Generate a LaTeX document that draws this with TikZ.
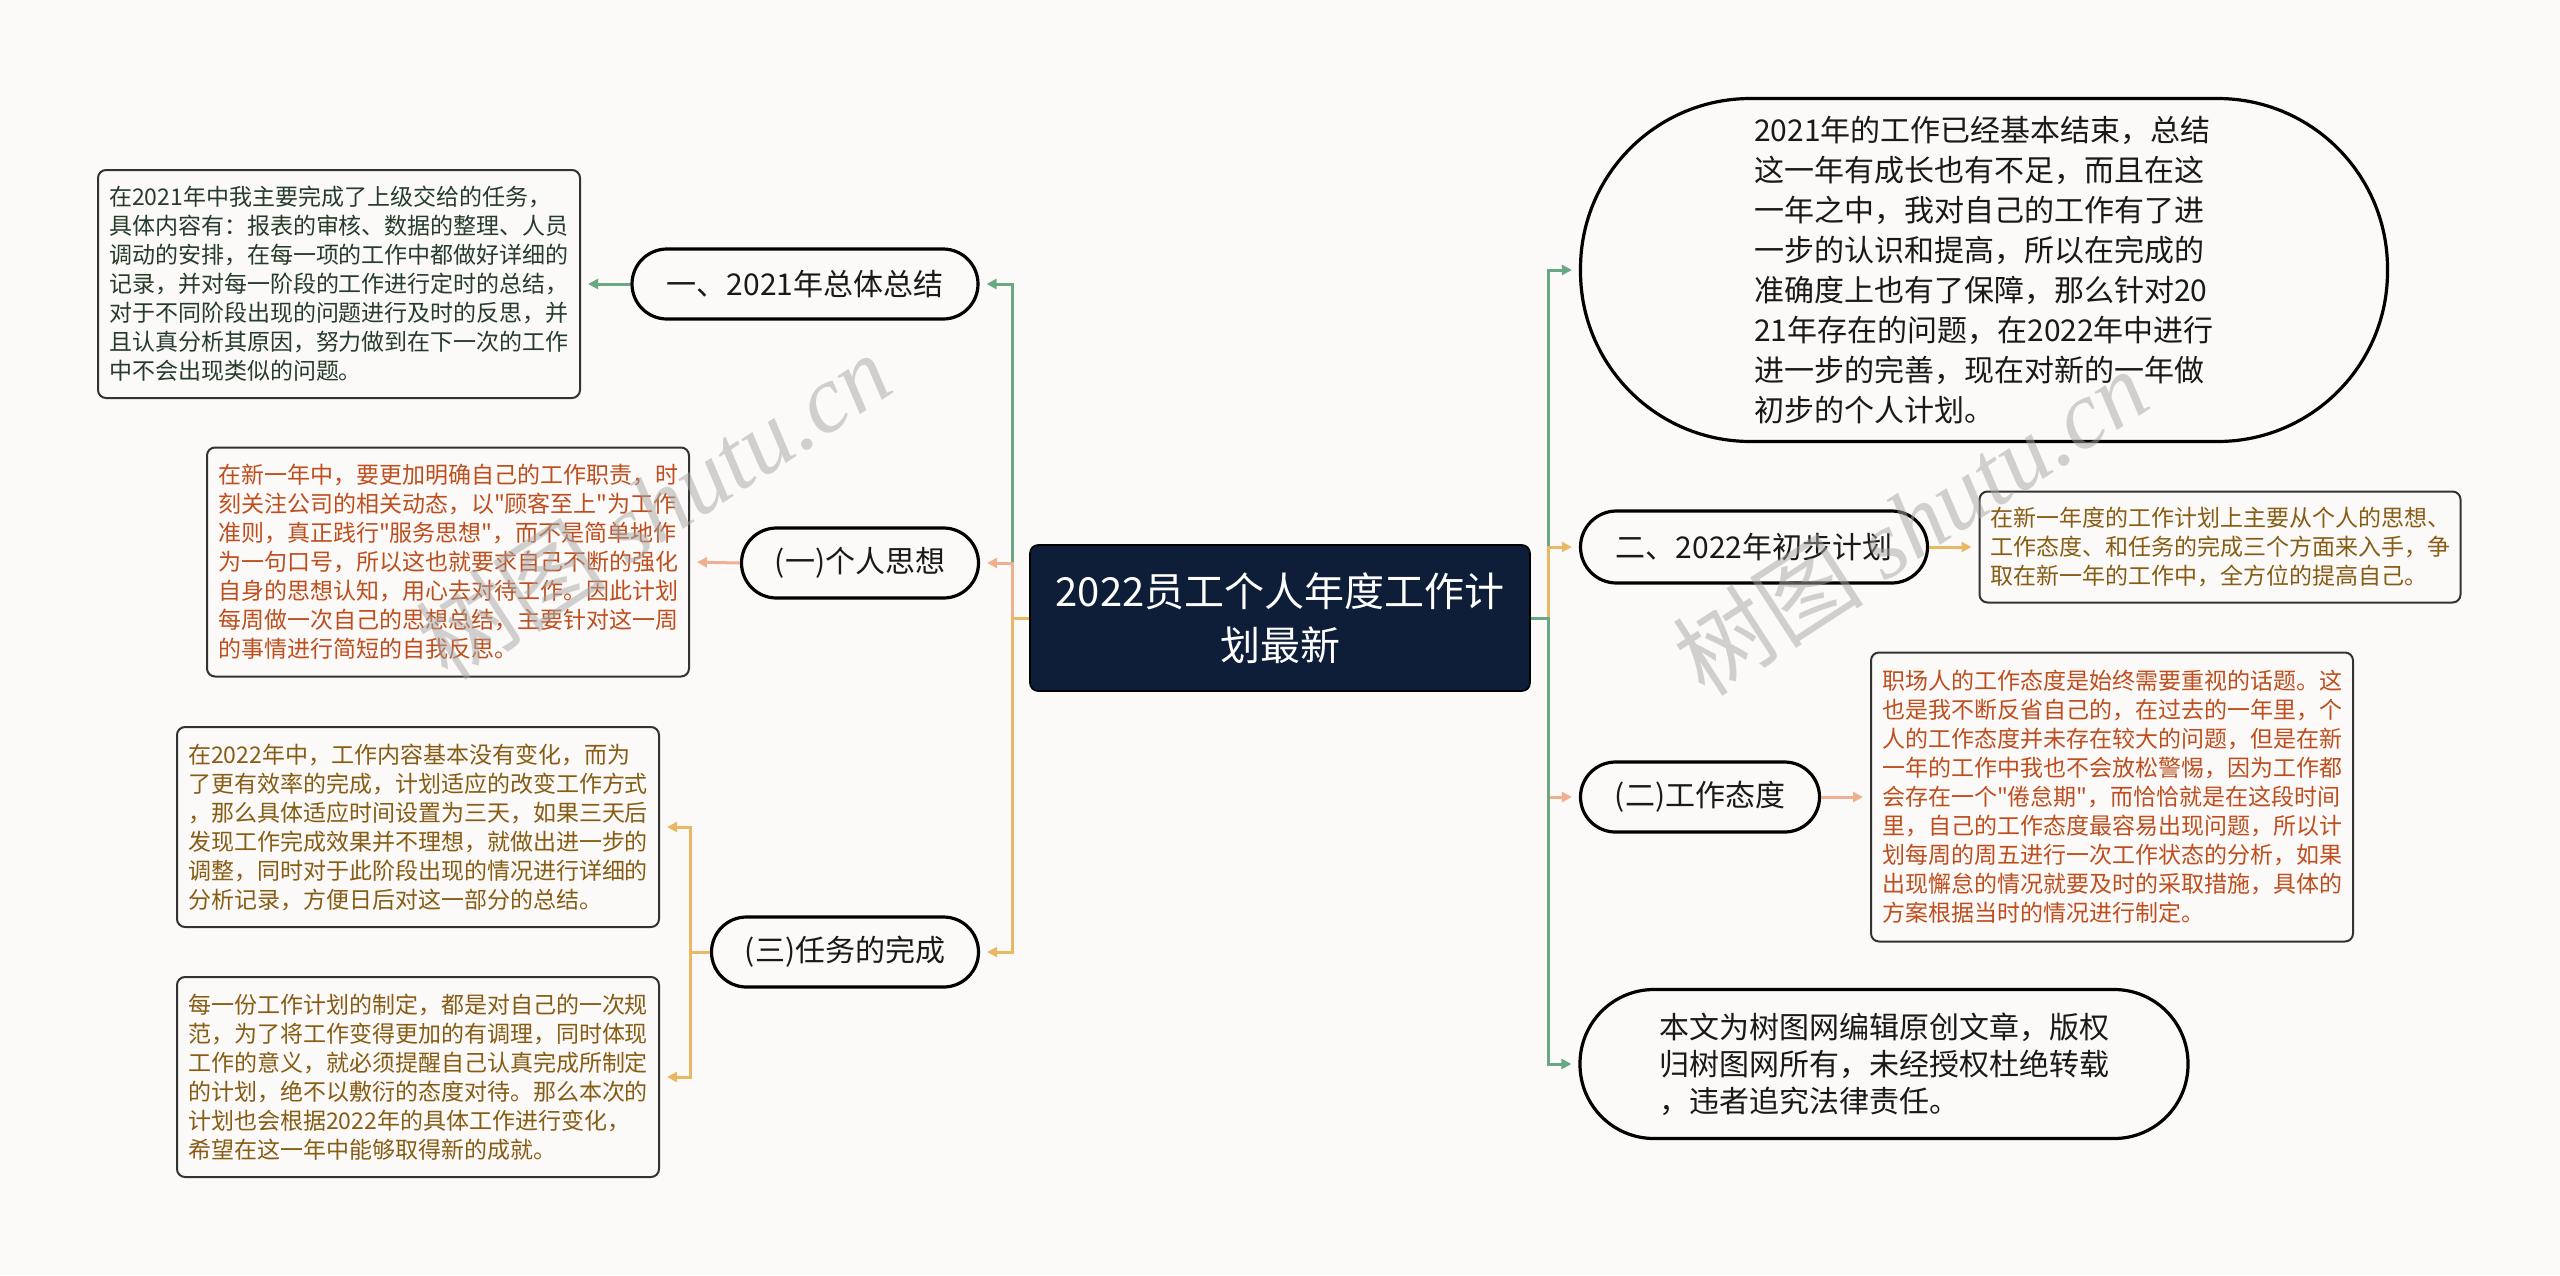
\documentclass[tikz,border=0pt]{standalone}
\usepackage{fontspec}
\setmainfont{Noto Sans CJK SC}[Ligatures=TeXOff]
\newfontfamily\markfont{Liberation Serif}
\usetikzlibrary{arrows.meta}

\definecolor{bgcol}{RGB}{252,250,248}
\definecolor{navy}{RGB}{14,30,56}
\definecolor{lkgreen}{RGB}{106,168,132}
\definecolor{lkpink}{RGB}{240,176,144}
\definecolor{lkgold}{RGB}{232,184,100}
\definecolor{txgreen}{RGB}{38,60,45}
\definecolor{txrust}{RGB}{190,78,30}
\definecolor{txgold}{RGB}{135,92,20}

\begin{document}
\begin{tikzpicture}[x=0.5pt, y=-0.5pt,
    central/.style={draw=black, line width=0.8pt, fill=navy, text=white, rounded corners=4pt,
      minimum width=250pt, minimum height=73pt, align=center, font=\fontsize{20}{27}\selectfont},
    branch/.style={draw=black, line width=1.6pt, fill=bgcol, text=black!90, rounded corners=17.5pt,
      minimum height=35pt, font=\fontsize{15}{18}\selectfont},
    bigpill/.style={draw=black, line width=1.6pt, fill=bgcol, text=black!90, align=left},
    detail/.style={draw=black!80, line width=1pt, fill=bgcol, rounded corners=4pt, minimum width=241pt,
      align=left, inner sep=0pt, font=\fontsize{11.5}{14.5}\selectfont},
    link/.style={line width=1.5pt, -{Triangle[length=5pt,width=5pt]}, shorten >=3.5pt},
    wmark/.style={text=black!35, opacity=0.5, rotate=33, font=\fontsize{48}{48}\selectfont}
  ]

  % Background
  \fill[bgcol] (0,0) rectangle (2560,1275);
  \useasboundingbox (0,0) rectangle (2560,1275);

  % Centre
  \node[central] (ctr) at (1280,618) {2022员工个人年度工作计\\划最新};
  \coordinate (jl) at (1012,618);
  \coordinate (jr) at (1548,618);

  % Left branches
  \node[branch, minimum width=173pt] (sum) at (805,284) {一、2021年总体总结};
  \node[branch, minimum width=118.5pt] (idea) at (860,563) {(一)个人思想};
  \node[branch, minimum width=133.5pt] (task) at (845,952) {(三)任务的完成};

  \node[detail, text=txgreen, minimum height=114pt] (sumtxt) at (339,284)
    {在2021年中我主要完成了上级交给的任务，\\具体内容有：报表的审核、数据的整理、人员\\调动的安排，在每一项的工作中都做好详细的\\记录，并对每一阶段的工作进行定时的总结，\\对于不同阶段出现的问题进行及时的反思，并\\且认真分析其原因，努力做到在下一次的工作\\中不会出现类似的问题。};
  \node[detail, text=txrust, minimum height=114.5pt] (ideatxt) at (448,562)
    {在新一年中，要更加明确自己的工作职责，时\\刻关注公司的相关动态，以"顾客至上"为工作\\准则，真正践行"服务思想"，而不是简单地作\\为一句口号，所以这也就要求自己不断的强化\\自身的思想认知，用心去对待工作。因此计划\\每周做一次自己的思想总结，主要针对这一周\\的事情进行简短的自我反思。};
  \node[detail, text=txgold, minimum height=100pt] (taskA) at (418,827)
    {在2022年中，工作内容基本没有变化，而为\\了更有效率的完成，计划适应的改变工作方式\\，那么具体适应时间设置为三天，如果三天后\\发现工作完成效果并不理想，就做出进一步的\\调整，同时对于此阶段出现的情况进行详细的\\分析记录，方便日后对这一部分的总结。};
  \node[detail, text=txgold, minimum height=100pt] (taskB) at (418,1077)
    {每一份工作计划的制定，都是对自己的一次规\\范，为了将工作变得更加的有调理，同时体现\\工作的意义，就必须提醒自己认真完成所制定\\的计划，绝不以敷衍的态度对待。那么本次的\\计划也会根据2022年的具体工作进行变化，\\希望在这一年中能够取得新的成就。};

  % Right branches
  \node[bigpill, minimum width=403.5pt, minimum height=171.5pt, rounded corners=85pt,
    font=\fontsize{15}{20}\selectfont] (intro) at (1984,270)
    {2021年的工作已经基本结束，总结\\这一年有成长也有不足，而且在这\\一年之中，我对自己的工作有了进\\一步的认识和提高，所以在完成的\\准确度上也有了保障，那么针对20\\21年存在的问题，在2022年中进行\\进一步的完善，现在对新的一年做\\初步的个人计划。};
  \node[branch, minimum width=173.5pt, minimum height=36pt, rounded corners=18pt] (plan) at (1754,547) {二、2022年初步计划};
  \node[branch, minimum width=119.5pt] (att) at (1700,797) {(二)工作态度};
  \node[bigpill, minimum width=304pt, minimum height=74.5pt, rounded corners=37pt,
    font=\fontsize{15}{18.5}\selectfont] (note) at (1884,1064)
    {本文为树图网编辑原创文章，版权\\归树图网所有，未经授权杜绝转载\\，违者追究法律责任。};

  \node[detail, text=txgold, minimum width=240.5pt, minimum height=55.5pt] (plantxt) at (2220,547)
    {在新一年度的工作计划上主要从个人的思想、\\工作态度、和任务的完成三个方面来入手，争\\取在新一年的工作中，全方位的提高自己。};
  \node[detail, text=txrust, minimum height=144.5pt] (atttxt) at (2112,797)
    {职场人的工作态度是始终需要重视的话题。这\\也是我不断反省自己的，在过去的一年里，个\\人的工作态度并未存在较大的问题，但是在新\\一年的工作中我也不会放松警惕，因为工作都\\会存在一个"倦怠期"，而恰恰就是在这段时间\\里，自己的工作态度最容易出现问题，所以计\\划每周的周五进行一次工作状态的分析，如果\\出现懈怠的情况就要及时的采取措施，具体的\\方案根据当时的情况进行制定。};

  % Links, left
  \draw[link, lkgreen] (ctr.west) -- (jl) |- (sum.east);
  \draw[link, lkpink] (ctr.west) -- (jl) |- (idea.east);
  \draw[link, lkgold] (ctr.west) -- (jl) |- (task.east);
  \draw[link, lkgreen] (sum.west) -- (sumtxt.east);
  \draw[link, lkpink] (idea.west) -- (ideatxt.east);
  \draw[link, lkgold] (task.west) -- ++(-19,0) |- (taskA.east);
  \draw[link, lkgold] (task.west) -- ++(-19,0) |- (taskB.east);

  % Links, right
  \draw[link, lkgreen] (ctr.east) -- (jr) |- (intro.west);
  \draw[link, lkgold] (ctr.east) -- (jr) |- (plan.west);
  \draw[link, lkpink] (ctr.east) -- (jr) |- (att.west);
  \draw[link, lkgreen] (ctr.east) -- (jr) |- (note.west);
  \draw[link, lkgold] (plan.east) -- (plantxt.west);
  \draw[link, lkpink] (att.east) -- (atttxt.west);

  % Watermarks
  \node[wmark] (markL) at (653,506) {树图 {\markfont\itshape shutu.cn}};
  \node[wmark] (markR) at (1910,522) {树图 {\markfont\itshape shutu.cn}};
\end{tikzpicture}
\end{document}
